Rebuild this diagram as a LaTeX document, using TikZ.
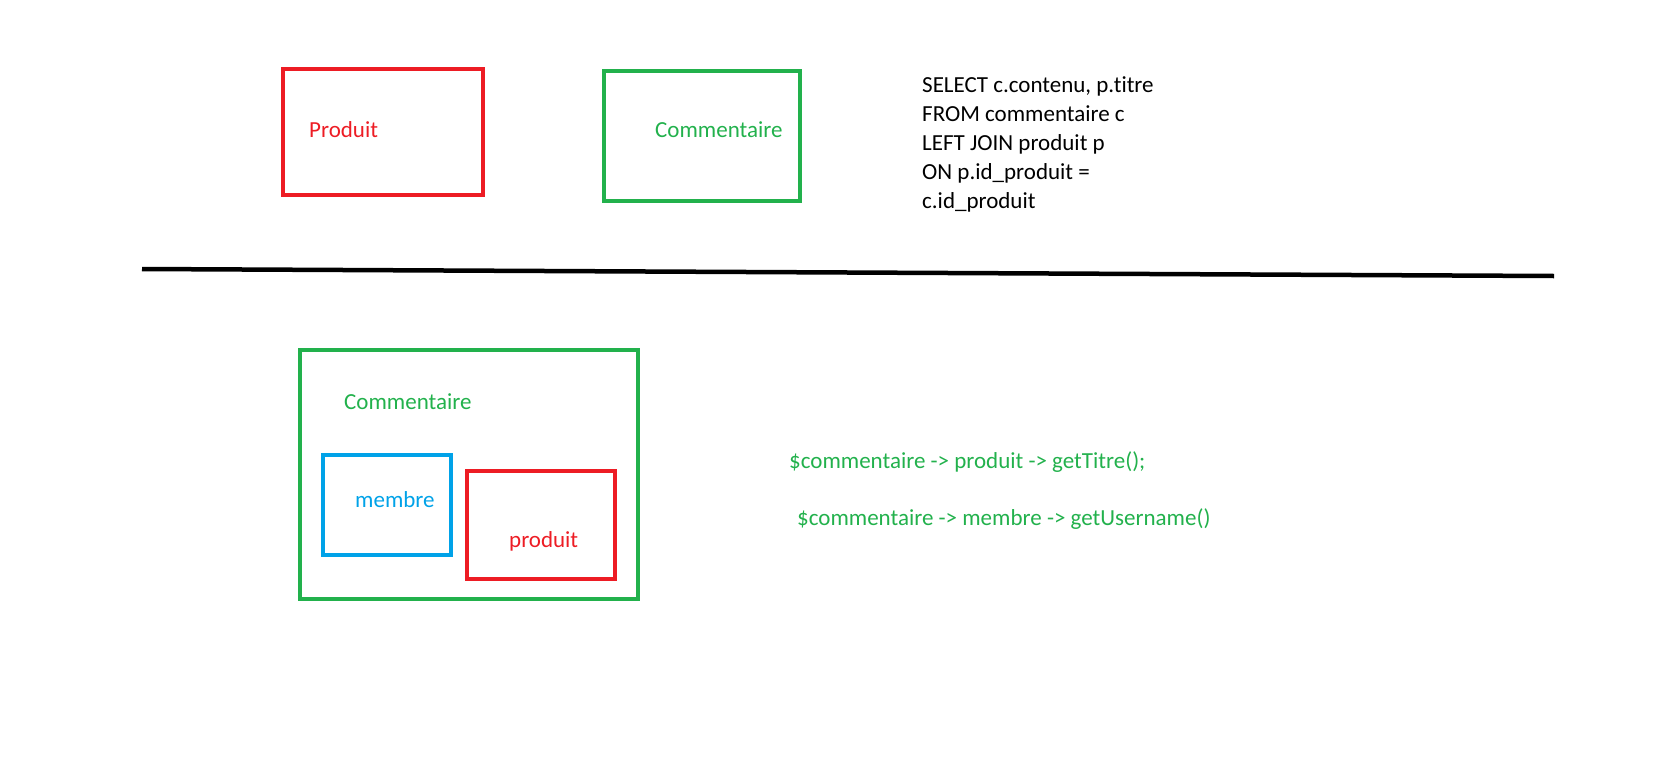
\documentclass[tikz,border=0pt]{standalone}
\usepackage{xcolor}
\usepackage{fontspec}
\setmainfont{Carlito}[Ligatures={NoCommon,NoRequired,NoContextual}]
\definecolor{paintred}{HTML}{ED1C24}
\definecolor{paintgreen}{HTML}{22B14C}
\definecolor{paintblue}{HTML}{00A2E8}
\begin{document}
\begin{tikzpicture}[x=1pt,y=-1pt]
\tikzstyle{entitybox} = [rectangle, draw, line width=4pt, inner sep=0pt]
\tikzstyle{redbox} = [entitybox, draw=paintred]
\tikzstyle{greenbox} = [entitybox, draw=paintgreen]
\tikzstyle{bluebox} = [entitybox, draw=paintblue]
\tikzstyle{txt} = [anchor=base west, inner sep=0pt, font=\fontsize{23}{29}\selectfont]
\tikzstyle{sqltxt} = [txt, text=black]

\useasboundingbox (0,0) rectangle (1658,758);

% top: the two tables
\node(produitBox) [redbox, minimum width=200pt, minimum height=126pt] at (383,132) {};
\node(produitLbl) [txt, text=paintred] at (309,137) {Produit};
\node(commentaireBox) [greenbox, minimum width=196pt, minimum height=130pt] at (702,136) {};
\node(commentaireLbl) [txt, text=paintgreen] at (655,137) {Commentaire};

% the query
\node(sql1) [sqltxt] at (922,92) {SELECT c.contenu, p.titre};
\node(sql2) [sqltxt] at (922,121) {FROM commentaire c};
\node(sql3) [sqltxt] at (922,150) {LEFT JOIN produit p};
\node(sql4) [sqltxt] at (922,179) {ON p.id\_produit =};
\node(sql5) [sqltxt] at (922,208) {c.id\_produit};

% separator
\coordinate(sepLeft) at (142,269);
\coordinate(sepRight) at (1554,276);
\draw[line width=4.5pt] (sepLeft) -- (sepRight);

% bottom: the object
\node(objetBox) [greenbox, minimum width=338pt, minimum height=249pt] at (469,474.5) {};
\node(objetLbl) [txt, text=paintgreen] at (344,409) {Commentaire};
\node(membreBox) [bluebox, minimum width=128pt, minimum height=100pt] at (387,505) {};
\node(membreLbl) [txt, text=paintblue] at (355,507) {membre};
\node(produitObjBox) [redbox, minimum width=148pt, minimum height=108pt] at (541,525) {};
\node(produitObjLbl) [txt, text=paintred] at (509,547) {produit};

% the getters
\node(code1) [txt, text=paintgreen] at (789,468) {\$commentaire -> produit -> getTitre();};
\node(code2) [txt, text=paintgreen] at (797,525) {\$commentaire -> membre -> getUsername()};
\end{tikzpicture}
\end{document}
